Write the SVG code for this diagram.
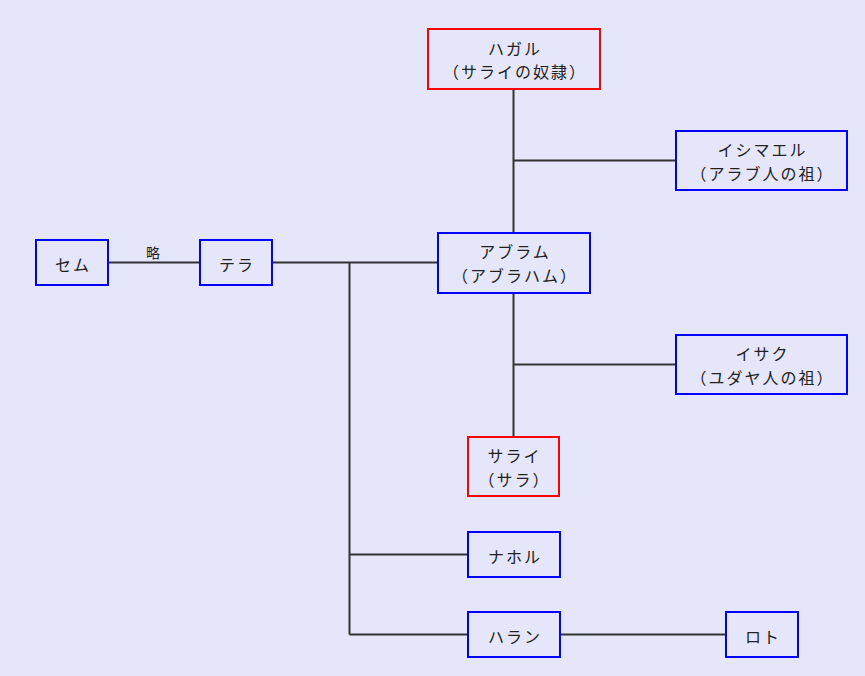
<svg xmlns="http://www.w3.org/2000/svg" width="865" height="676" viewBox="0 0 865 676">
<style>
.bg{fill:#E6E6FA}
.n rect{fill:#E6E6FA;stroke:#0000FF;stroke-width:2}
.n.f rect{stroke:#FF0000}
.n text,.lbl{font-family:"Noto Sans CJK JP","Noto Sans",sans-serif;font-size:16px;letter-spacing:2px;fill:#222;text-anchor:middle;dominant-baseline:central}
.lbl{font-size:14px;letter-spacing:0}
.c path{fill:none;stroke:#333;stroke-width:2}
</style>
<rect class="bg" width="865" height="676"/>
<g class="c">
<path d="M108 262.5H200"/>
<path d="M272 262.5H438"/>
<path d="M349.5 262.5V634.5"/>
<path d="M349.5 554.5H468"/>
<path d="M349.5 634.5H468"/>
<path d="M560 634.5H726"/>
<path d="M513.5 89V437"/>
<path d="M513.5 160.5H676"/>
<path d="M513.5 364.5H676"/>
</g>
<text class="lbl" x="153" y="252">略</text>
<g id="sem" class="n"><rect x="36" y="240" width="72" height="45"/><text x="73" y="263.5">セム</text></g>
<g id="tera" class="n"><rect x="200" y="240" width="72" height="45"/><text x="237" y="263.5">テラ</text></g>
<g id="hagar" class="n f"><rect x="428" y="29" width="172" height="60"/><text x="515" y="47.5">ハガル</text><text x="515" y="71">（サライの奴隷）</text></g>
<g id="ishmael" class="n"><rect x="676" y="131" width="171" height="59"/><text x="762.5" y="149">イシマエル</text><text x="762.5" y="172.5">（アラブ人の祖）</text></g>
<g id="abram" class="n"><rect x="438" y="233" width="152" height="60"/><text x="515" y="251">アブラム</text><text x="515" y="274.5">（アブラハム）</text></g>
<g id="isaac" class="n"><rect x="676" y="335" width="171" height="59"/><text x="762.5" y="353">イサク</text><text x="762.5" y="376.5">（ユダヤ人の祖）</text></g>
<g id="sarai" class="n f"><rect x="468" y="437" width="91" height="59"/><text x="514.5" y="455">サライ</text><text x="514.5" y="478.5">（サラ）</text></g>
<g id="nahor" class="n"><rect x="468" y="532" width="92" height="45"/><text x="515" y="555.5">ナホル</text></g>
<g id="haran" class="n"><rect x="468" y="612" width="92" height="45"/><text x="515" y="635.5">ハラン</text></g>
<g id="lot" class="n"><rect x="726" y="612" width="72" height="45"/><text x="763" y="635.5">ロト</text></g>
</svg>
